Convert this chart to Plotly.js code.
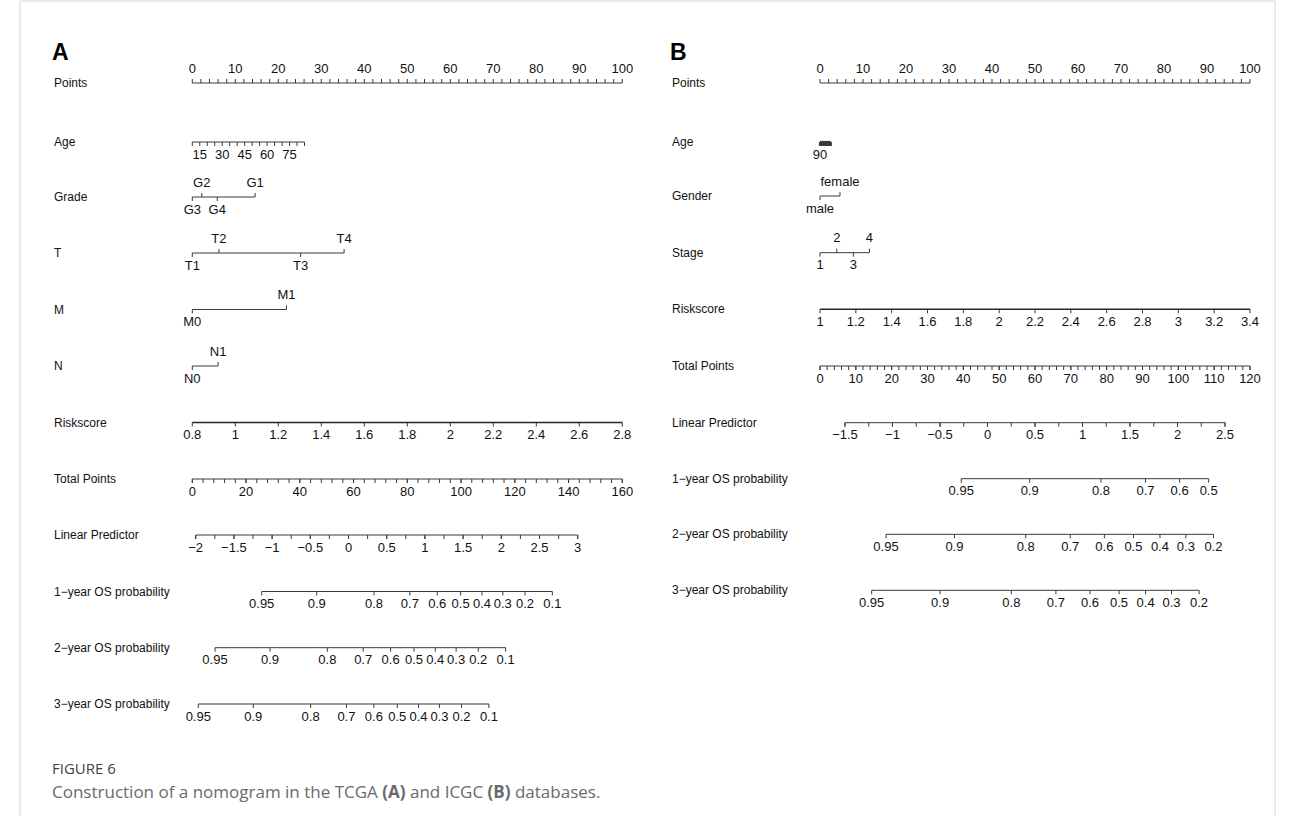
<!DOCTYPE html>
<html><head><meta charset="utf-8">
<script src="https://cdn.plot.ly/plotly-3.0.1.min.js"></script>
<style>html,body{margin:0;padding:0;background:#fff;}#chart{width:1295px;height:816px;}</style>
</head><body><div id="chart"></div>
<script>
// ================= DATA =================
const MINUS = '\u2212';
// ---- Panel A (TCGA) ----
const A_rowNames = ['Points','Age','Grade','T','M','N','Riskscore','Total Points','Linear Predictor',
  '1\u2212year OS probability','2\u2212year OS probability','3\u2212year OS probability'];
const A_pointsMajor = [0,10,20,30,40,50,60,70,80,90,100];
const A_ageTicks = [10,15,20,25,30,35,40,45,50,55,60,65,70,75,80,85];
const A_ageLabels = [15,30,45,60,75];
const A_ageAnchor = [10,0,85,26.1];            // value -> points
const A_gradeCats = ['G3','G2','G4','G1'];
const A_gradePts  = [0,2.2,5.8,14.6];
const A_gradeSide = ['below','above','below','above'];
const A_tCats = ['T1','T2','T3','T4'];
const A_tPts  = [0,6.2,25.2,35.3];
const A_tSide = ['below','above','below','above'];
const A_mCats = ['M0','M1'];
const A_mPts  = [0,21.9];
const A_nCats = ['N0','N1'];
const A_nPts  = [0,6.0];
const A_riskTicks = [0.8,1,1.2,1.4,1.6,1.8,2,2.2,2.4,2.6,2.8];
const A_riskAnchor = [0.8,0,2.8,100];
const A_totalTicks = [0,20,40,60,80,100,120,140,160];
const A_totalAnchor = [0,0,160,100];
const A_lpTicks = [-2,-1.5,-1,-0.5,0,0.5,1,1.5,2,2.5,3];
const A_lpAnchor = [-2,0.79,3,89.63];          // linear predictor -> points
const A_probLabels = ['0.95','0.9','0.8','0.7','0.6','0.5','0.4','0.3','0.2','0.1'];
const A_os1Lp = [-1.136,-0.416,0.334,0.803,1.162,1.468,1.747,2.020,2.310,2.668];
const A_os2Lp = [-1.747,-1.027,-0.277,0.192,0.551,0.857,1.136,1.409,1.699,2.057];
const A_os3Lp = [-1.966,-1.246,-0.496,-0.027,0.332,0.638,0.917,1.190,1.480,1.838];

// ---- Panel B (ICGC) ----
const B_rowNames = ['Points','Age','Gender','Stage','Riskscore','Total Points','Linear Predictor',
  '1\u2212year OS probability','2\u2212year OS probability','3\u2212year OS probability'];
const B_pointsMajor = [0,10,20,30,40,50,60,70,80,90,100];
const B_ageTicks = [20,25,30,35,40,45,50,55,60,65,70,75,80,85,90];
const B_ageLabels = [90];
const B_ageAnchor = [90,0,20,2.5];
const B_genderCats = ['male','female'];
const B_genderPts  = [0,4.65];
const B_genderSide = ['below','above'];
const B_stageCats = ['1','2','3','4'];
const B_stagePts  = [0,3.9,7.75,11.5];
const B_stageSide = ['below','above','below','above'];
const B_riskTicks = [1,1.2,1.4,1.6,1.8,2,2.2,2.4,2.6,2.8,3,3.2,3.4];
const B_riskAnchor = [1,0,3.4,100];
const B_totalTicks = [0,10,20,30,40,50,60,70,80,90,100,110,120];
const B_totalAnchor = [0,0,120,100];
const B_lpTicks = [-1.5,-1,-0.5,0,0.5,1,1.5,2,2.5];
const B_lpAnchor = [-1.5,5.81,2.5,94.19];
const B_os1Labels = ['0.95','0.9','0.8','0.7','0.6','0.5'];
const B_os1Lp = [-0.276,0.444,1.194,1.663,2.022,2.328];
const B_os23Labels = ['0.95','0.9','0.8','0.7','0.6','0.5','0.4','0.3','0.2'];
const B_os2Lp = [-1.068,-0.348,0.402,0.871,1.230,1.536,1.815,2.088,2.378];
const B_os3Lp = [-1.219,-0.499,0.251,0.720,1.079,1.385,1.664,1.937,2.227];

// ================= LAYOUT CONFIG =================
const W = 1295, H = 816;
const PX_PER_PT = 4.3;
const A_origin = 192.3, B_origin = 820;
const A_rowY = [83,142,197,253,309.5,366,422.5,479,535,591.5,647.7,704];
const B_rowY = [83,142,196,252.7,309.3,366,422.7,478.7,534.3,590.3];
const A_labelX = 52, B_labelX = 670;
const TICK = 4, LBL = 13.5;
const LINE_COL = '#3a3a3a', TXT_COL = '#111';
const FONT = '"Liberation Sans", Arial, sans-serif';

function fmt(v){ const s = String(Math.round(v*1000)/1000); return s.replace('-', MINUS); }
function lin(v,a){ return a[1] + (v-a[0])*(a[3]-a[1])/(a[2]-a[0]); }

function Panel(){
  this.thin = {x:[],y:[]}; this.thick = {x:[],y:[]};
  this.tx=[]; this.ty=[]; this.tt=[];
}
Panel.prototype.seg = function(x0,y0,x1,y1,thick){
  const t = thick ? this.thick : this.thin;
  t.x.push(x0,x1,null); t.y.push(y0,y1,null);
};
Panel.prototype.text = function(x,y,s){ this.tx.push(x); this.ty.push(y); this.tt.push(s); };
Panel.prototype.pointsAxis = function(y, major, minorStep){
  const lo = major[0], hi = major[major.length-1];
  this.seg(lo,y,hi,y);
  for(let v=lo; v<=hi+1e-9; v+=minorStep){ this.seg(v,y,v,y-TICK); }
  major.forEach(v=>this.text(v,y-LBL,fmt(v)));
};
Panel.prototype.contAxis = function(y, ticks, anchor, labels, minor, thick){
  const p = ticks.map(v=>lin(v,anchor));
  this.seg(Math.min(...p),y,Math.max(...p),y,thick);
  ticks.forEach((v,i)=>this.seg(p[i],y,p[i],y+TICK));
  if(minor){ minor.forEach(v=>{const q=lin(v,anchor); this.seg(q,y,q,y+TICK);}); }
  (labels||ticks).forEach(v=>this.text(lin(v,anchor),y+LBL,fmt(v)));
};
Panel.prototype.catAxis = function(y, cats, pts, side){
  this.seg(Math.min(...pts),y,Math.max(...pts),y);
  cats.forEach((c,i)=>{
    const up = side[i]==='above';
    this.seg(pts[i],y,pts[i],up?y-TICK:y+TICK);
    this.text(pts[i], up?y-LBL:y+LBL, c);
  });
};
Panel.prototype.probAxis = function(y, labels, lps, lpAnchor){
  const p = lps.map(v=>lin(v,lpAnchor));
  this.seg(Math.min(...p),y,Math.max(...p),y);
  labels.forEach((s,i)=>{ this.seg(p[i],y,p[i],y+TICK); this.text(p[i],y+LBL,s); });
};
function range(lo,hi,step){ const r=[]; for(let v=lo; v<=hi+1e-9; v+=step) r.push(Math.round(v*1000)/1000); return r; }

// ---- build A ----
const PA = new Panel();
PA.pointsAxis(A_rowY[0], A_pointsMajor, 2);
PA.contAxis(A_rowY[1], A_ageTicks, A_ageAnchor, A_ageLabels);
PA.catAxis(A_rowY[2], A_gradeCats, A_gradePts, A_gradeSide);
PA.catAxis(A_rowY[3], A_tCats, A_tPts, A_tSide);
PA.catAxis(A_rowY[4], A_mCats, A_mPts, ['below','above']);
PA.catAxis(A_rowY[5], A_nCats, A_nPts, ['below','above']);
PA.contAxis(A_rowY[6], A_riskTicks, A_riskAnchor, null, null, true);
PA.contAxis(A_rowY[7], A_totalTicks, A_totalAnchor, null, range(0,160,4));
PA.contAxis(A_rowY[8], A_lpTicks, A_lpAnchor, null, range(-2,3,0.25));
PA.probAxis(A_rowY[9], A_probLabels, A_os1Lp, A_lpAnchor);
PA.probAxis(A_rowY[10], A_probLabels, A_os2Lp, A_lpAnchor);
PA.probAxis(A_rowY[11], A_probLabels, A_os3Lp, A_lpAnchor);

// ---- build B ----
const PB = new Panel();
PB.pointsAxis(B_rowY[0], B_pointsMajor, 2);
PB.catAxis(B_rowY[2], B_genderCats, B_genderPts, B_genderSide);
PB.catAxis(B_rowY[3], B_stageCats, B_stagePts, B_stageSide);
PB.contAxis(B_rowY[4], B_riskTicks, B_riskAnchor, null, null, true);
PB.contAxis(B_rowY[5], B_totalTicks, B_totalAnchor, null, range(0,120,2));
PB.contAxis(B_rowY[6], B_lpTicks, B_lpAnchor, null, range(-1.5,2.5,0.25));
PB.probAxis(B_rowY[7], B_os1Labels, B_os1Lp, B_lpAnchor);
PB.probAxis(B_rowY[8], B_os23Labels, B_os2Lp, B_lpAnchor);
PB.probAxis(B_rowY[9], B_os23Labels, B_os3Lp, B_lpAnchor);
// Age in panel B: ticks so close together that they merge into a solid block
const PBage = new Panel();
PBage.contAxis(B_rowY[1], B_ageTicks, B_ageAnchor, B_ageLabels);

function traces(P, xa, thinW, thickW){
  return [
    {type:'scatter',mode:'lines',x:P.thin.x,y:P.thin.y,xaxis:xa,yaxis:'y',line:{color:LINE_COL,width:thinW||1},hoverinfo:'skip',showlegend:false},
    {type:'scatter',mode:'lines',x:P.thick.x,y:P.thick.y,xaxis:xa,yaxis:'y',line:{color:'#262626',width:thickW||1.5},hoverinfo:'skip',showlegend:false},
    {type:'scatter',mode:'text',x:P.tx,y:P.ty,text:P.tt,xaxis:xa,yaxis:'y',textposition:'middle center',
     textfont:{family:FONT,size:13,color:TXT_COL},hoverinfo:'skip',showlegend:false}
  ];
}
const data = [...traces(PA,'x'), ...traces(PB,'x2'), ...traces(PBage,'x2',2.2)];

const annotations = [];
const rowFont = {family:FONT,size:12,color:TXT_COL};
A_rowNames.forEach((n,i)=>annotations.push({xref:'paper',yref:'y',x:A_labelX/W,y:A_rowY[i],text:n,showarrow:false,xanchor:'left',yanchor:'middle',font:rowFont}));
B_rowNames.forEach((n,i)=>annotations.push({xref:'paper',yref:'y',x:B_labelX/W,y:B_rowY[i],text:n,showarrow:false,xanchor:'left',yanchor:'middle',font:rowFont}));
annotations.push({xref:'paper',yref:'y',x:50/W,y:52,text:'<b>A</b>',showarrow:false,xanchor:'left',yanchor:'middle',font:{family:FONT,size:23,color:'#000'}});
annotations.push({xref:'paper',yref:'y',x:668/W,y:52,text:'<b>B</b>',showarrow:false,xanchor:'left',yanchor:'middle',font:{family:FONT,size:23,color:'#000'}});
annotations.push({xref:'paper',yref:'y',x:50/W,y:768,text:'FIGURE 6',showarrow:false,xanchor:'left',yanchor:'middle',font:{family:'"Open Sans", sans-serif',size:15,color:'#4a4040'}});
annotations.push({xref:'paper',yref:'y',x:50/W,y:791,text:'Construction of a nomogram in the TCGA <b>(A)</b> and ICGC <b>(B)</b> databases.',showarrow:false,xanchor:'left',yanchor:'middle',font:{family:'"Open Sans", sans-serif',size:17,color:'#6a6a6a'}});

const layout = {
  width:W,height:H,margin:{l:0,r:0,t:0,b:0},paper_bgcolor:'#fff',plot_bgcolor:'#fff',
  xaxis:{range:[-A_origin/PX_PER_PT,(W-A_origin)/PX_PER_PT],visible:false,fixedrange:true},
  xaxis2:{range:[-B_origin/PX_PER_PT,(W-B_origin)/PX_PER_PT],visible:false,overlaying:'x',fixedrange:true},
  yaxis:{range:[H,0],visible:false,fixedrange:true},
  annotations:annotations,
  shapes:[{type:'rect',xref:'paper',yref:'y',x0:20/W,x1:1275/W,y0:1,y1:830,line:{color:'#d4d4d4',width:1}}],
  showlegend:false
};
Plotly.newPlot('chart',data,layout,{displayModeBar:false,staticPlot:true});
</script></body></html>
